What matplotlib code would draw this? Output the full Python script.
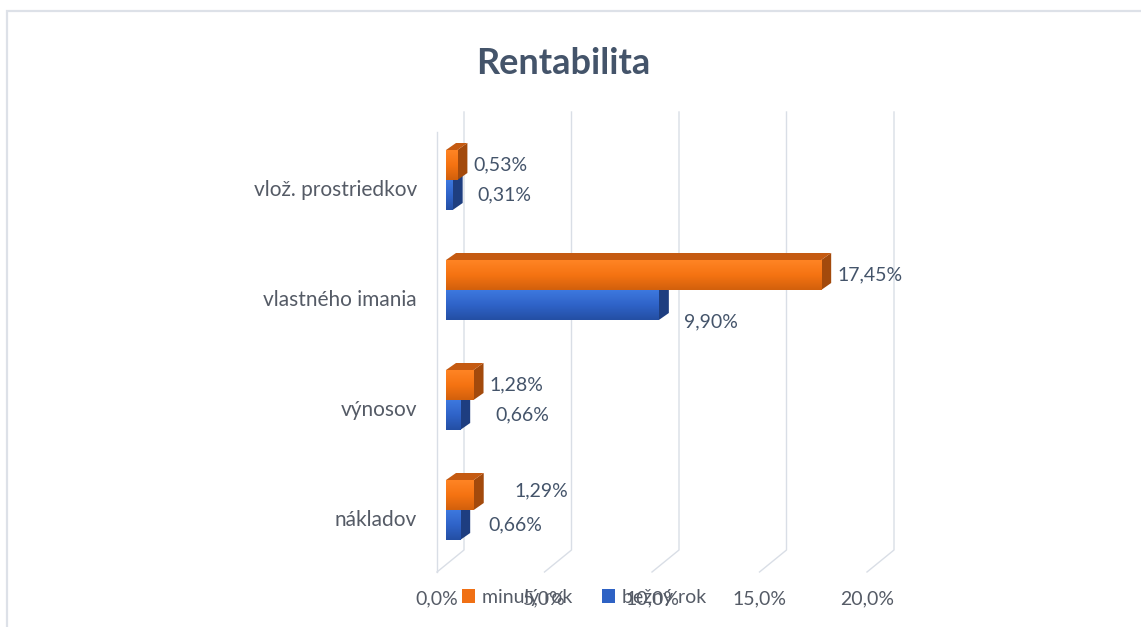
import numpy as np
import matplotlib
matplotlib.use("Agg")
import matplotlib.pyplot as plt
import matplotlib.transforms as mtransforms
from matplotlib.colors import LinearSegmentedColormap
from matplotlib.patches import Polygon, Rectangle
from matplotlib.lines import Line2D

plt.rcParams['font.family'] = ['Lato', 'DejaVu Sans']

# data (v %)
kategorie = ["nákladov", "výnosov", "vlastného imania", "vlož. prostriedkov"]
minuly_rok = [1.29, 1.28, 17.45, 0.53]
bezny_rok = [0.66, 0.66, 9.90, 0.31]
x_ticks = [0, 5, 10, 15, 20]

# posuny popisiek v pixeloch (Excel ich kladie trochu po svojom)
dx_min = [41, 16, 16, 16]
dy_min = [4, 0, 0, 0]
dx_bez = [28, 35, 25, 25]
dy_bez = [0, 0, -17, 0]

W, H = 1141, 627
TEXT = "#44546A"
GRID = "#D9DEE6"
HLBKA_X, HLBKA_Y = 10, 7   # hlbka 3D hranola v px

fig = plt.figure(figsize=(W / 100, H / 100), dpi=100)
ax = fig.add_axes([446 / W, (H - 565) / H, 430 / W, 440 / H])
for s in ax.spines.values():
    s.set_visible(False)

h = 30 / 110  # vyska jedneho stlpca v jednotkach osi y
y = np.arange(len(kategorie))

oranz_cmap = LinearSegmentedColormap.from_list("o", ["#FF8424", "#F57312", "#D2600C"])
modra_cmap = LinearSegmentedColormap.from_list("b", ["#3D78DE", "#2F63C8", "#244FA4"])
grad = np.linspace(0, 1, 60).reshape(-1, 1)

for i in range(len(kategorie)):
    ax.imshow(grad, cmap=modra_cmap, extent=(0, bezny_rok[i], y[i] - h, y[i]),
              aspect='auto', zorder=3, interpolation='bilinear')
    ax.imshow(grad, cmap=oranz_cmap, extent=(0, minuly_rok[i], y[i], y[i] + h),
              aspect='auto', zorder=6, interpolation='bilinear')

ax.set_xlim(0, 20)
ax.set_ylim(-0.5, 3.5)

ident = mtransforms.IdentityTransform()


def bod(hodnota, y_img, dx=0):
    # x z mierky osi, y v pixeloch obrazka (zhora)
    x = ax.transData.transform((hodnota, 0))[0] + dx
    return (x, H - y_img)


# mriezka na zadnej stene + sikme ciary na podlahe
for t in x_ticks:
    ax.add_line(Line2D(*zip(bod(t, 112, 18), bod(t, 550, 18), bod(t, 572, -9)),
                       transform=ident, color=GRID, lw=1.0, zorder=1, clip_on=False))
ax.add_line(Line2D(*zip(bod(0, 132, -9), bod(0, 572, -9)),
                   transform=ident, color=GRID, lw=1.0, zorder=1, clip_on=False))


def hranol(hodnota, y0, y1, bok, vrch, z):
    p0 = ax.transData.transform((hodnota, y0))
    p1 = ax.transData.transform((hodnota, y1))
    d = np.array([HLBKA_X, HLBKA_Y])
    ax.add_patch(Polygon([p0, p1, p1 + d, p0 + d], closed=True, transform=ident,
                         facecolor=bok, edgecolor='none', zorder=z, clip_on=False))
    if vrch is not None:
        q0 = ax.transData.transform((0, y1))
        ax.add_patch(Polygon([q0, p1, p1 + d, q0 + d], closed=True, transform=ident,
                             facecolor=vrch, edgecolor='none', zorder=z, clip_on=False))


for i in range(len(kategorie)):
    hranol(bezny_rok[i], y[i] - h, y[i], "#1E3E80", None, 2)
    hranol(minuly_rok[i], y[i], y[i] + h, "#A34A0C", "#C55A11", 5)

# popisky hodnot
for i in range(len(kategorie)):
    ax.annotate(f"{minuly_rok[i]:.2f}%".replace(".", ","), (minuly_rok[i], y[i] + h / 2),
                xytext=(dx_min[i], dy_min[i]), textcoords='offset pixels',
                ha='left', va='center', fontsize=14, color=TEXT, zorder=8)
    ax.annotate(f"{bezny_rok[i]:.2f}%".replace(".", ","), (bezny_rok[i], y[i] - h / 2),
                xytext=(dx_bez[i], dy_bez[i]), textcoords='offset pixels',
                ha='left', va='center', fontsize=14, color=TEXT, zorder=8)

# osi
ax.set_yticks(y)
ax.set_yticklabels(kategorie, fontsize=15, color="#555B66")
ax.set_xticks(x_ticks)
ax.set_xticklabels([f"{t:.1f}%".replace(".", ",") for t in x_ticks], fontsize=14, color="#555B66")
ax.tick_params(length=0)
ax.tick_params(axis='y', pad=21)
ax.tick_params(axis='x', pad=18)
posun_x = mtransforms.ScaledTranslation(-9 / 100, 0, fig.dpi_scale_trans)
for lab in ax.get_xticklabels():
    lab.set_transform(lab.get_transform() + posun_x)
posun_y = mtransforms.ScaledTranslation(0, -8 / 100, fig.dpi_scale_trans)
for lab in ax.get_yticklabels():
    lab.set_transform(lab.get_transform() + posun_y)

fig.text(563 / W, 1 - 63 / H, "Rentabilita", ha='center', va='center',
         fontsize=26, fontweight='bold', color=TEXT)

handles = [Rectangle((0, 0), 1, 1, facecolor="#F07014"),
           Rectangle((0, 0), 1, 1, facecolor="#2E62C4")]
leg = fig.legend(handles, ["minulý rok", "bežný rok"], loc='center',
                 bbox_to_anchor=(584 / W, 1 - 597 / H), ncol=2, frameon=False,
                 fontsize=14, handlelength=0.7, handleheight=0.7,
                 handletextpad=0.35, columnspacing=1.5)
for t in leg.get_texts():
    t.set_color("#555B66")

# ramik grafu
fig.patches.append(Rectangle((6.5 / W, -0.1), 1.2, 1.1 - 10.5 / H, transform=fig.transFigure,
                             fill=False, edgecolor="#DDE1E8", lw=1.6))

fig.savefig("out.png", dpi=100)
